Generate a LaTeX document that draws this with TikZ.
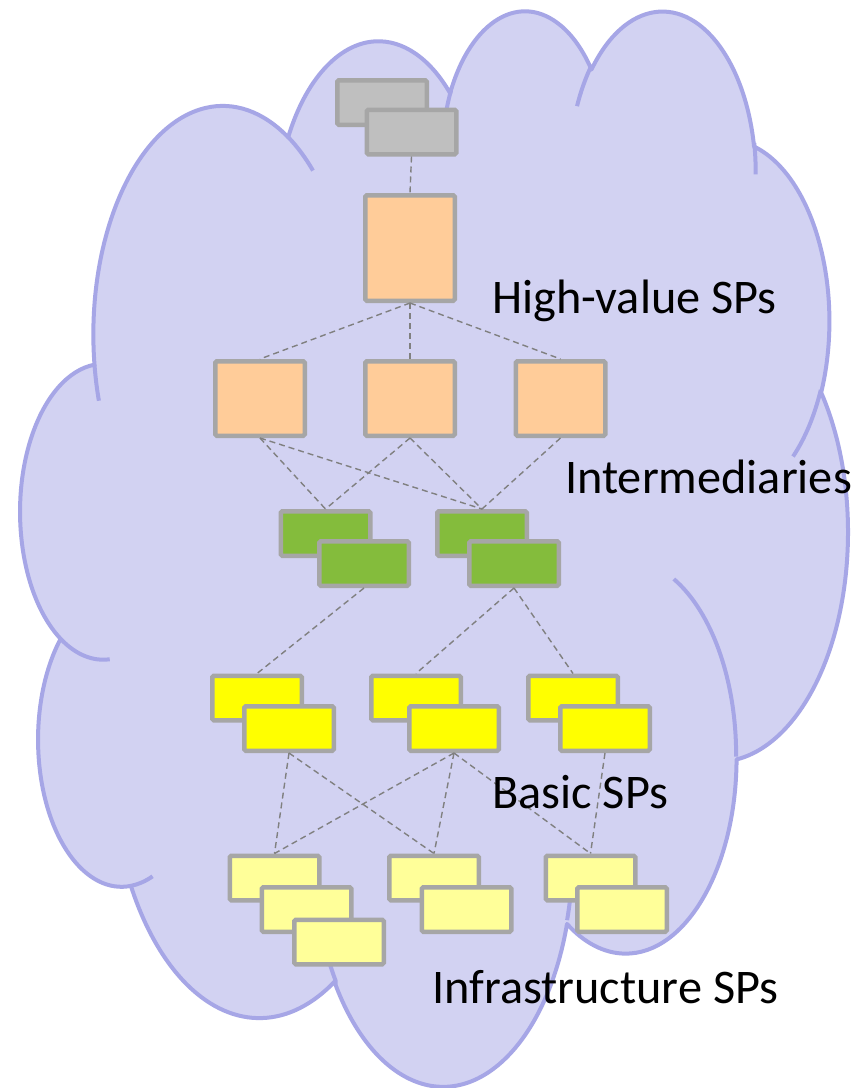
\documentclass[tikz,border=0pt]{standalone}
\usepackage{fontspec}
\setmainfont{Carlito}

\definecolor{cloudfill}{HTML}{D2D2F2}
\definecolor{cloudline}{HTML}{A6A6E6}
\definecolor{boxedge}{HTML}{A6A6A6}
\definecolor{linkgray}{HTML}{808080}
\definecolor{graybox}{HTML}{BFBFBF}
\definecolor{peach}{HTML}{FFCC99}
\definecolor{leaf}{HTML}{84BC3C}
\definecolor{lemon}{HTML}{FFFF00}
\definecolor{cream}{HTML}{FFFF99}

% Cloud outline arcs: radii and visual start/sweep angles are converted
% into a TikZ arc style (parametric start angle and sweep).
\newcommand\setcloudarc[5]{%
  \pgfmathsetmacro\cloudtmpa{atan2((#2)*sin(#4),(#3)*cos(#4))}%
  \pgfmathsetmacro\cloudtmpb{atan2((#2)*sin((#4)+(#5)),(#3)*cos((#4)+(#5)))}%
  \pgfmathsetmacro\cloudtmpd{\cloudtmpb-\cloudtmpa}%
  \pgfmathsetmacro\cloudtmpd{\cloudtmpd-360*round((\cloudtmpd-(#5))/360)}%
  \edef\cloudtmpset{\noexpand\tikzset{cloud#1/.style={x radius=#2, y radius=#3,
      start angle=\cloudtmpa, delta angle=\cloudtmpd}}}%
  \cloudtmpset
}
% outer bumps
\setcloudarc{A}{67.53}{91.90}{-190.4875}{123.7805}
\setcloudarc{B}{53.33}{72.67}{-144.1024}{89.9452}
\setcloudarc{C}{43.65}{59.45}{-145.8079}{99.7230}
\setcloudarc{D}{48.57}{65.95}{-130.9861}{117.2417}
\setcloudarc{E}{53.33}{72.73}{-78.7089}{109.0269}
\setcloudarc{F}{67.75}{92.20}{-46.2673}{130.2690}
\setcloudarc{G}{57.85}{78.67}{0.6250}{114.0333}
\setcloudarc{H}{67.52}{92.15}{22.4516}{115.1726}
\setcloudarc{I}{77.20}{105.43}{66.2426}{75.7}
\setcloudarc{J}{43.60}{59.18}{-274.9421}{146.5}
\setcloudarc{K}{43.45}{59.45}{-246.8285}{152.5189}
% inner hooks
\setcloudarc{h1}{43.45}{59.45}{86.7420}{26.4295}
\setcloudarc{h2}{43.60}{59.18}{73.6105}{11.4475}
\setcloudarc{h3}{67.52}{92.15}{137.6242}{14.0811}
\setcloudarc{h4}{67.52}{92.15}{6.4533}{15.9984}
\setcloudarc{h5}{57.85}{78.67}{-70.2924}{70.9174}
\setcloudarc{h6}{53.33}{72.73}{30.3180}{27.7515}
\setcloudarc{h7}{48.57}{65.95}{-13.7443}{14.8589}
\setcloudarc{h8}{48.57}{65.95}{-149.1815}{18.1954}
\setcloudarc{h9}{43.65}{59.45}{-163.4943}{17.6864}
\setcloudarc{h10}{67.53}{91.90}{-66.7070}{12.3194}
\setcloudarc{h11}{67.53}{91.90}{157.6544}{11.8582}

\begin{document}
\begin{tikzpicture}[x=1bp, y=-1bp,
  box/.style={draw=boxedge, line width=4.5bp, rounded corners=1.5bp, inner sep=0pt,
    minimum width=89.5bp, minimum height=44.5bp},
  link/.style={draw=linkgray, line width=1.4bp, dash pattern=on 6bp off 4bp},
  lbl/.style={anchor=base west, inner sep=0pt, font=\fontsize{48.3bp}{58bp}\selectfont}]
\useasboundingbox (0,0) rectangle (853,1088);
\fill[white] (0,0) rectangle (853,1088);

% cloud
\begin{scope}[shift={(19.8,7.8)}, x=1.9163bp, y=-2.4886bp, line width=4bp, line join=round]
  \filldraw[fill=cloudfill, draw=cloudline] (39.00,143.70)
    arc[cloudA] arc[cloudB] arc[cloudC] arc[cloudD] arc[cloudE] arc[cloudF]
    arc[cloudG] arc[cloudH] -- (164.78,390.90) arc[cloudI] -- (58.20,352.80)
    arc[cloudJ] -- (21.62,253.82) arc[cloudK] -- cycle;
  \draw[cloudline]
    (46.93,261.77) arc[cloudh1]
    (69.28,348.99) arc[cloudh2]
    (164.78,390.90) arc[cloudh3]
    (288.27,347.51) arc[cloudh4]
    (341.29,229.54) arc[cloudh5]
    (417.98,153.54) arc[cloudh6]
    (383.24,54.26) arc[cloudh7]
    (290.78,39.52) arc[cloudh8]
    (221.41,47.20) arc[cloudh9]
    (140.00,51.92) arc[cloudh10]
    (41.27,157.89) arc[cloudh11];
\end{scope}

% top tier
\node[box, fill=graybox] (topB) at (382,102.5) {};
\node[box, fill=graybox] (topF) at (411.5,132) {};
\node[box, fill=peach, minimum height=105.5bp] (hv) at (410,248) {};

% intermediaries
\node[box, fill=peach, minimum height=74.5bp] (im1) at (260,398.5) {};
\node[box, fill=peach, minimum height=74.5bp] (im2) at (410,398.5) {};
\node[box, fill=peach, minimum height=74.5bp] (im3) at (560.5,398.5) {};

% green pairs
\node[box, fill=leaf] (g1b) at (325.5,533.5) {};
\node[box, fill=leaf] (g1f) at (364,563.5) {};
\node[box, fill=leaf] (g2b) at (482,533.5) {};
\node[box, fill=leaf] (g2f) at (514,563.5) {};

% basic SPs
\node[box, fill=lemon] (y1b) at (257,698) {};
\node[box, fill=lemon] (y1f) at (289,728.5) {};
\node[box, fill=lemon] (y2b) at (416,698) {};
\node[box, fill=lemon] (y2f) at (454,728.5) {};
\node[box, fill=lemon] (y3b) at (573,698) {};
\node[box, fill=lemon] (y3f) at (605,728.5) {};

% infrastructure SPs
\node[box, fill=cream] (l1a) at (274.5,878) {};
\node[box, fill=cream] (l1b) at (306.5,909.5) {};
\node[box, fill=cream] (l1c) at (339,942) {};
\node[box, fill=cream] (l2a) at (434,878) {};
\node[box, fill=cream] (l2b) at (466.5,909.5) {};
\node[box, fill=cream] (l3a) at (590.5,878) {};
\node[box, fill=cream] (l3b) at (622,909.5) {};

% links
\draw[link] (topF.south) -- (hv.north);
\draw[link] (hv.south) -- (im1.north);
\draw[link] (hv.south) -- (im2.north);
\draw[link] (hv.south) -- (im3.north);
\draw[link] (im1.south) -- (g1b.north);
\draw[link] (im1.south) -- (g2b.north);
\draw[link] (im2.south) -- (g1b.north);
\draw[link] (im2.south) -- (g2b.north);
\draw[link] (im3.south) -- (g2b.north);
\draw[link] (g1f.south) -- (y1b.north);
\draw[link] (g2f.south) -- (y2b.north);
\draw[link] (g2f.south) -- (y3b.north);
\draw[link] (y1f.south) -- (l1a.north);
\draw[link] (y1f.south) -- (l2a.north);
\draw[link] (y2f.south) -- (l1a.north);
\draw[link] (y2f.south) -- (l2a.north);
\draw[link] (y2f.south) -- (l3a.north);
\draw[link] (y3f.south) -- (l3a.north);

% labels
\node[lbl] (tHV) at (492,313) {High-value SPs};
\node[lbl] (tIM) at (565,493) {Intermediaries};
\node[lbl] (tBS) at (492,808) {Basic SPs};
\node[lbl] (tIS) at (432,1003) {Infrastructure SPs};
\end{tikzpicture}
\end{document}
